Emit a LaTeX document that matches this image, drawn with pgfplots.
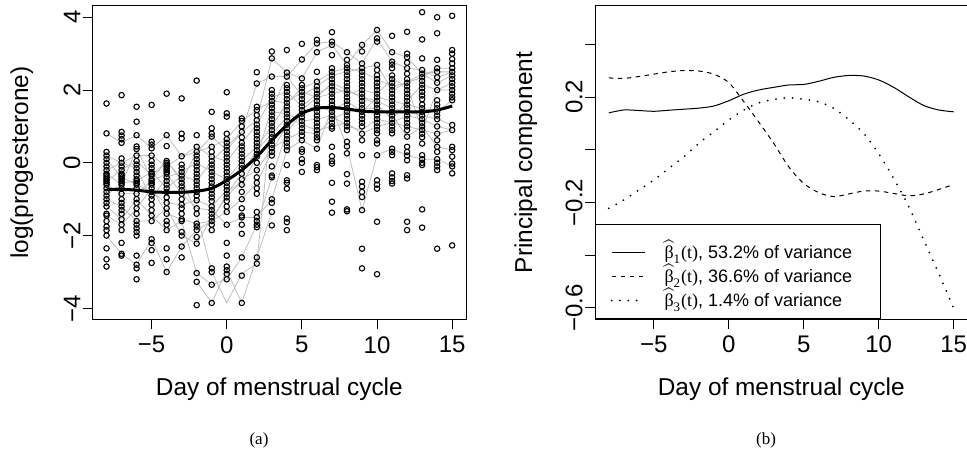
\documentclass[border=0pt]{standalone}
\usepackage{fontspec}
\setmainfont{Liberation Sans}
\newfontfamily\serif{Liberation Serif}
\usepackage{pgfplots}
\pgfplotsset{compat=1.18}
\newcommand\bh[1]{\smash{$\widehat{\hbox{\serif β}}_{\hbox{\serif\fontsize{6.5}{7}\selectfont #1}}$}{\serif(t)}}
\begin{document}
\begin{tikzpicture}
\pgfplotsset{
  rplot/.style={
    scale only axis, anchor=south west,
    xmin=-8.92, xmax=15.92,
    axis line style={black, line width=0.5pt},
    tick align=outside, major tick length=5pt,
    xtick pos=bottom, ytick pos=left,
    tick style={black, line width=0.5pt},
    xtick={-5,0,5,10,15}, xticklabels={−5,0,5,10,15},
    ticklabel style={font=\fontsize{12}{14}\selectfont},
    yticklabel style={rotate=90, anchor=south, inner sep=0.5pt},
    yticklabel shift=0.5pt,
    label style={font=\fontsize{12.2}{14}\selectfont},
    xlabel={Day of menstrual cycle},
    xlabel style={at={(axis description cs:0.5,-0.223)}, anchor=center},
  },
  indiv/.style={gray!50, line width=0.4pt, no marks},
}
% (a) individual log(progesterone) profiles
\begin{axis}[rplot, at={(46.35pt,65.35pt)}, width=186.65pt, height=156.65pt,
  ymin=-4.3, ymax=4.31,
  ytick={-4,-2,0,2,4}, yticklabels={−4,−2,0,2,4},
  ylabel={log(progesterone)},
  ylabel style={at={(axis description cs:-0.19,0.5)}, anchor=center},
]
\addplot[only marks, mark=o, mark size=1.35pt, mark options={line width=0.55pt, black}] coordinates {
(-8,1.63) (-8,0.81) (-8,0.3) (-8,0.2) (-8,0.1) (-8,0.0) (-8,-0.1) (-8,-0.2) (-8,-0.3) (-8,-0.35) (-8,-0.4) (-8,-0.45) (-8,-0.5) (-8,-0.55) (-8,-0.6) (-8,-0.7) (-8,-0.8) (-8,-0.9) (-8,-1.0) (-8,-1.1) (-8,-1.2) (-8,-1.4) (-8,-1.45) (-8,-1.6) (-8,-1.75) (-8,-1.85) (-8,-2.0) (-8,-2.35) (-8,-2.65) (-8,-2.85)
(-7,1.86) (-7,0.85) (-7,0.75) (-7,0.65) (-7,0.55) (-7,0.12) (-7,0.0) (-7,-0.1) (-7,-0.2) (-7,-0.3) (-7,-0.35) (-7,-0.4) (-7,-0.45) (-7,-0.5) (-7,-0.55) (-7,-0.6) (-7,-0.7) (-7,-0.85) (-7,-1.0) (-7,-1.1) (-7,-1.2) (-7,-1.3) (-7,-1.4) (-7,-1.55) (-7,-1.7) (-7,-1.85) (-7,-2.2) (-7,-2.5) (-7,-2.55)
(-6,1.54) (-6,1.13) (-6,0.76) (-6,0.45) (-6,0.38) (-6,0.2) (-6,0.05) (-6,-0.05) (-6,-0.15) (-6,-0.25) (-6,-0.35) (-6,-0.45) (-6,-0.5) (-6,-0.55) (-6,-0.6) (-6,-0.7) (-6,-0.85) (-6,-1.0) (-6,-1.1) (-6,-1.25) (-6,-1.4) (-6,-1.6) (-6,-1.7) (-6,-1.8) (-6,-1.9) (-6,-2.0) (-6,-2.55) (-6,-2.8) (-6,-2.9) (-6,-3.2)
(-5,1.59) (-5,0.58) (-5,0.5) (-5,0.4) (-5,0.2) (-5,0.05) (-5,-0.05) (-5,-0.15) (-5,-0.25) (-5,-0.3) (-5,-0.35) (-5,-0.45) (-5,-0.5) (-5,-0.55) (-5,-0.6) (-5,-0.7) (-5,-0.8) (-5,-0.9) (-5,-1.0) (-5,-1.15) (-5,-1.3) (-5,-1.45) (-5,-1.6) (-5,-2.1) (-5,-2.2) (-5,-2.4) (-5,-2.75)
(-4,1.9) (-4,0.76) (-4,0.46) (-4,0.05) (-4,0.0) (-4,-0.05) (-4,-0.1) (-4,-0.15) (-4,-0.2) (-4,-0.25) (-4,-0.3) (-4,-0.4) (-4,-0.5) (-4,-0.6) (-4,-0.7) (-4,-0.8) (-4,-0.95) (-4,-1.1) (-4,-1.25) (-4,-1.4) (-4,-1.6) (-4,-1.7) (-4,-1.85) (-4,-2.35) (-4,-2.65) (-4,-3.0)
(-3,1.77) (-3,0.8) (-3,0.67) (-3,0.18) (-3,-0.05) (-3,-0.15) (-3,-0.25) (-3,-0.35) (-3,-0.45) (-3,-0.55) (-3,-0.65) (-3,-0.75) (-3,-0.85) (-3,-1.0) (-3,-1.15) (-3,-1.25) (-3,-1.4) (-3,-1.55) (-3,-1.6) (-3,-1.9) (-3,-2.0) (-3,-2.3) (-3,-2.6)
(-2,2.26) (-2,0.76) (-2,0.44) (-2,0.3) (-2,0.2) (-2,0.1) (-2,0.0) (-2,-0.1) (-2,-0.2) (-2,-0.3) (-2,-0.4) (-2,-0.5) (-2,-0.6) (-2,-0.7) (-2,-0.8) (-2,-0.9) (-2,-1.03) (-2,-1.25) (-2,-1.4) (-2,-1.67) (-2,-1.75) (-2,-1.85) (-2,-2.04) (-2,-2.22) (-2,-3.03) (-2,-3.27) (-2,-3.91)
(-1,1.4) (-1,0.95) (-1,0.8) (-1,0.72) (-1,0.44) (-1,0.3) (-1,0.17) (-1,0.05) (-1,-0.05) (-1,-0.15) (-1,-0.25) (-1,-0.35) (-1,-0.45) (-1,-0.55) (-1,-0.65) (-1,-0.75) (-1,-0.85) (-1,-0.95) (-1,-1.05) (-1,-1.2) (-1,-1.3) (-1,-1.4) (-1,-1.5) (-1,-1.6) (-1,-1.7) (-1,-1.85) (-1,-2.9) (-1,-3.0) (-1,-3.35) (-1,-3.85)
(0,1.94) (0,1.36) (0,1.27) (0,0.8) (0,0.65) (0,0.55) (0,0.45) (0,0.35) (0,0.25) (0,0.15) (0,0.05) (0,-0.05) (0,-0.15) (0,-0.25) (0,-0.35) (0,-0.45) (0,-0.55) (0,-0.65) (0,-0.75) (0,-0.85) (0,-0.95) (0,-1.05) (0,-1.2) (0,-1.35) (0,-1.7) (0,-2.2) (0,-2.55) (0,-2.85) (0,-2.95) (0,-3.05) (0,-3.2)
(1,1.22) (1,1.15) (1,1.0) (1,0.85) (1,0.7) (1,0.55) (1,0.45) (1,0.35) (1,0.25) (1,0.15) (1,0.05) (1,-0.05) (1,-0.15) (1,-0.3) (1,-0.45) (1,-0.6) (1,-0.8) (1,-1.0) (1,-1.25) (1,-1.45) (1,-1.5) (1,-1.7) (1,-1.95) (1,-2.6) (1,-3.1) (1,-3.85)
(2,2.49) (2,2.18) (2,1.54) (2,1.45) (2,1.31) (2,1.17) (2,1.05) (2,0.95) (2,0.85) (2,0.75) (2,0.65) (2,0.55) (2,0.45) (2,0.35) (2,0.25) (2,0.17) (2,0.0) (2,-0.2) (2,-0.4) (2,-0.55) (2,-0.7) (2,-0.85) (2,-1.35) (2,-1.5) (2,-1.6) (2,-1.7) (2,-1.77) (2,-2.6) (2,-2.77)
(3,3.06) (3,2.87) (3,2.37) (3,2.0) (3,1.9) (3,1.8) (3,1.7) (3,1.6) (3,1.5) (3,1.4) (3,1.3) (3,1.2) (3,1.1) (3,1.0) (3,0.9) (3,0.8) (3,0.7) (3,0.6) (3,0.5) (3,0.4) (3,0.3) (3,0.2) (3,-0.1) (3,-0.35) (3,-0.4) (3,-1.0) (3,-1.1) (3,-1.35) (3,-1.72)
(4,3.1) (4,2.48) (4,2.37) (4,2.14) (4,2.05) (4,1.95) (4,1.85) (4,1.75) (4,1.65) (4,1.55) (4,1.45) (4,1.35) (4,1.25) (4,1.15) (4,1.05) (4,0.95) (4,0.85) (4,0.75) (4,0.65) (4,0.55) (4,0.45) (4,0.35) (4,-0.06) (4,-0.48) (4,-0.55) (4,-0.71) (4,-1.53) (4,-1.63) (4,-1.85)
(5,3.27) (5,2.84) (5,2.32) (5,2.14) (5,2.05) (5,1.95) (5,1.85) (5,1.75) (5,1.65) (5,1.55) (5,1.45) (5,1.35) (5,1.25) (5,1.15) (5,1.05) (5,0.95) (5,0.85) (5,0.75) (5,0.62) (5,0.37) (5,0.3) (5,0.1) (5,0.0) (5,-0.25)
(6,3.38) (6,3.28) (6,3.04) (6,2.5) (6,2.23) (6,2.1) (6,2.0) (6,1.9) (6,1.8) (6,1.7) (6,1.6) (6,1.5) (6,1.4) (6,1.3) (6,1.2) (6,1.1) (6,1.0) (6,0.9) (6,0.8) (6,0.7) (6,0.62) (6,0.39) (6,-0.06) (6,-0.12) (6,-0.2)
(7,3.59) (7,3.33) (7,3.24) (7,2.96) (7,2.6) (7,2.5) (7,2.4) (7,2.3) (7,2.2) (7,2.1) (7,2.0) (7,1.9) (7,1.8) (7,1.7) (7,1.6) (7,1.5) (7,1.4) (7,1.3) (7,1.2) (7,1.1) (7,1.0) (7,0.94) (7,0.44) (7,0.18) (7,0.05) (7,-0.02) (7,-0.55) (7,-1.07) (7,-1.37)
(8,3.04) (8,2.83) (8,2.69) (8,2.6) (8,2.5) (8,2.4) (8,2.3) (8,2.2) (8,2.1) (8,2.0) (8,1.9) (8,1.8) (8,1.7) (8,1.6) (8,1.5) (8,1.4) (8,1.3) (8,1.2) (8,1.1) (8,1.0) (8,0.9) (8,0.58) (8,0.45) (8,0.26) (8,-0.31) (8,-0.57) (8,-1.28) (8,-1.33)
(9,3.24) (9,3.06) (9,2.73) (9,2.6) (9,2.5) (9,2.4) (9,2.3) (9,2.2) (9,2.1) (9,2.0) (9,1.9) (9,1.8) (9,1.7) (9,1.6) (9,1.5) (9,1.4) (9,1.3) (9,1.2) (9,1.1) (9,1.0) (9,0.8) (9,0.62) (9,0.21) (9,-0.52) (9,-0.65) (9,-0.8) (9,-0.94) (9,-1.3) (9,-2.36) (9,-2.9)
(10,3.65) (10,3.42) (10,3.33) (10,2.69) (10,2.55) (10,2.41) (10,2.3) (10,2.2) (10,2.1) (10,2.0) (10,1.9) (10,1.8) (10,1.7) (10,1.6) (10,1.5) (10,1.4) (10,1.3) (10,1.2) (10,1.1) (10,1.0) (10,0.9) (10,0.81) (10,0.62) (10,0.53) (10,0.21) (10,-0.48) (10,-0.6) (10,-0.71) (10,-1.62) (10,-3.06)
(11,3.49) (11,3.04) (11,2.78) (11,2.7) (11,2.6) (11,2.4) (11,2.3) (11,2.2) (11,2.1) (11,2.0) (11,1.9) (11,1.8) (11,1.7) (11,1.6) (11,1.5) (11,1.4) (11,1.3) (11,1.2) (11,1.1) (11,1.0) (11,0.9) (11,0.81) (11,0.39) (11,0.3) (11,0.21) (11,-0.29) (11,-0.4) (11,-0.5) (11,-0.57)
(12,3.6) (12,3.0) (12,2.9) (12,2.75) (12,2.6) (12,2.45) (12,2.3) (12,2.2) (12,2.1) (12,2.0) (12,1.9) (12,1.8) (12,1.7) (12,1.6) (12,1.5) (12,1.4) (12,1.3) (12,1.2) (12,1.1) (12,1.0) (12,0.9) (12,0.72) (12,0.44) (12,0.3) (12,0.2) (12,0.07) (12,-0.34) (12,-0.43) (12,-1.62) (12,-1.85)
(13,4.14) (13,3.39) (13,2.87) (13,2.55) (13,2.45) (13,2.35) (13,2.25) (13,2.15) (13,2.05) (13,1.95) (13,1.85) (13,1.75) (13,1.6) (13,1.5) (13,1.4) (13,1.3) (13,1.2) (13,1.1) (13,1.0) (13,0.9) (13,0.8) (13,0.7) (13,0.53) (13,0.21) (13,0.1) (13,0.0) (13,-0.06) (13,-1.28) (13,-1.78)
(14,4.0) (14,3.56) (14,2.83) (14,2.6) (14,2.5) (14,2.35) (14,2.2) (14,2.0) (14,1.72) (14,1.6) (14,1.5) (14,1.4) (14,1.3) (14,1.2) (14,1.0) (14,0.8) (14,0.62) (14,0.44) (14,0.3) (14,0.1) (14,0.0) (14,-0.1) (14,-0.2) (14,-2.36)
(15,4.04) (15,3.1) (15,3.0) (15,2.85) (15,2.73) (15,2.6) (15,2.5) (15,2.4) (15,2.3) (15,2.2) (15,2.1) (15,2.0) (15,1.9) (15,1.8) (15,1.72) (15,1.04) (15,0.9) (15,0.44) (15,0.35) (15,0.17) (15,-0.02) (15,-0.1) (15,-0.29) (15,-2.27)
};
% a few individual profiles
\addplot[indiv] coordinates {(-8,-0.3) (-7,-0.6) (-6,0.4) (-5,-0.45) (-4,0.05) (-3,-0.5) (-2,0.3) (-1,0.44) (0,0.65) (1,1.15) (2,1.45) (3,1.7) (4,1.65) (5,2.05) (6,2.23) (7,2.5) (8,2.6) (9,2.5) (10,2.3) (11,2.1) (12,2.2) (13,2.45) (14,2.5) (15,2.5)};
\addplot[indiv] coordinates {(-8,0.1) (-7,-0.4) (-6,-0.6) (-5,-0.8) (-4,-1.1) (-3,-1.15) (-2,-1.03) (-1,-1.2) (0,-0.75) (1,-0.6) (2,0.17) (3,1.5) (4,2.37) (5,1.85) (6,2.1) (7,2.4) (8,2.5) (9,2.6) (10,2.69) (11,2.0) (12,2.2) (13,2.35) (14,2.6) (15,2.6)};
\addplot[indiv] coordinates {(-8,-1.45) (-7,-1.7) (-6,-1.25) (-5,-0.7) (-4,-1.4) (-3,-1.55) (-2,-1.67) (-1,-1.6) (0,-0.85) (1,-0.3) (2,0.35) (3,0.8) (4,1.25) (5,1.05) (6,0.9) (7,1.0) (8,1.1) (9,0.8) (10,1.0) (11,1.1) (12,1.0) (13,0.9) (14,0.8) (15,0.9)};
\addplot[indiv] coordinates {(-8,-2.0) (-7,-2.5) (-6,-2.8) (-5,-2.1) (-4,-3.0) (-3,-2.3) (-2,-1.85) (-1,-1.6) (0,-1.35) (1,-1.0) (2,-0.55) (3,0.3) (4,1.05) (5,1.45) (6,1.8) (7,1.9) (8,2.0) (9,1.8) (10,1.7) (11,1.5) (12,1.4) (13,1.3) (14,1.2) (15,1.04)};
\addplot[indiv] coordinates {(-8,-0.5) (-7,-0.2) (-6,0.05) (-5,-0.35) (-4,0.05) (-3,-0.45) (-2,-1.4) (-1,-3.0) (0,-3.85) (1,-3.05) (2,-2.77) (3,1.4) (4,1.35) (5,1.15) (6,1.2) (7,1.3) (8,1.0) (9,0.9) (10,1.2) (11,1.1) (12,1.3) (13,1.2) (14,1.0) (15,0.9)};
\addplot[indiv] coordinates {(-2,-3.27) (-1,-3.85) (0,-2.95) (1,-3.85) (2,-2.6) (3,-1.35)};
\addplot[indiv] coordinates {(-8,0.81) (-7,0.55) (-6,0.76) (-5,0.4) (-4,0.76) (-3,0.18) (-2,0.3) (-1,0.72) (0,0.35) (1,0.85) (2,2.18) (3,2.37) (4,2.37) (5,2.84) (6,3.28) (7,3.33) (8,3.04) (9,2.73) (10,3.42) (11,2.78) (12,2.6) (13,2.55) (14,2.35) (15,2.5)};
\addplot[indiv] coordinates {(-8,-0.6) (-7,-0.85) (-6,-0.85) (-5,-0.5) (-4,-0.3) (-3,-0.85) (-2,-1.25) (-1,-1.3) (0,-1.7) (1,-1.5) (2,-1.5) (3,-1.0) (4,0.35) (5,0.62) (6,0.39) (7,1.5) (8,0.45) (9,-1.3) (10,0.21) (11,0.39) (12,0.2) (13,0.1) (14,0.1) (15,-0.1)};
\addplot[indiv] coordinates {(-8,0.2) (-7,0.0) (-6,-0.15) (-5,-1.0) (-4,-0.4) (-3,-0.25) (-2,0.0) (-1,-0.25) (0,-0.45) (1,0.05) (2,0.45) (3,1.0) (4,1.65) (5,1.95) (6,1.8) (7,2.2) (8,2.0) (9,1.8) (10,1.6) (11,1.2) (12,1.7) (13,2.15) (14,2.0) (15,2.2)};
\addplot[indiv] coordinates {(-8,-1.0) (-7,-1.2) (-6,-1.6) (-5,-1.6) (-4,-1.25) (-3,-2.0) (-2,-2.22) (-1,-1.5) (0,-0.95) (1,-0.45) (2,-0.2) (3,0.4) (4,0.65) (5,0.85) (6,0.8) (7,1.2) (8,1.4) (9,1.5) (10,1.5) (11,1.3) (12,0.72) (13,1.0) (14,0.44) (15,0.35)};
\addplot[indiv] coordinates {(-8,-0.2) (-7,0.0) (-6,0.2) (-5,0.2) (-4,-0.1) (-3,0.18) (-2,0.44) (-1,0.17) (0,0.05) (1,0.55) (2,1.05) (3,1.8) (4,1.95) (5,1.55) (6,1.9) (7,2.1) (8,1.9) (9,2.0) (10,1.9) (11,2.3) (12,2.1) (13,0.9) (14,2.0) (15,2.0)};
\addplot[indiv] coordinates {(-8,-1.2) (-7,-1.55) (-6,-1.0) (-5,-1.45) (-4,-1.85) (-3,-1.6) (-2,-3.03) (-1,-3.35) (0,-3.2) (1,-2.6) (2,-1.7) (3,-0.4) (4,0.85) (5,1.35) (6,1.6) (7,1.4) (8,1.7) (9,1.4) (10,1.8) (11,1.7) (12,1.6) (13,1.5) (14,1.4) (15,1.72)};
\addplot[indiv] coordinates {(-8,-0.9) (-7,-0.55) (-6,-0.5) (-5,-0.25) (-4,-0.7) (-3,-0.35) (-2,-0.5) (-1,0.05) (0,0.45) (1,0.85) (2,1.17) (3,2.87) (4,2.48) (5,2.32) (6,3.04) (7,3.24) (8,2.69) (9,3.24) (10,3.65) (11,3.04) (12,2.9) (13,2.45) (14,2.2) (15,2.4)};
% mean curve
\addplot[black, line width=1.5pt, smooth, no marks] coordinates {(-8,-0.73) (-7,-0.73) (-6,-0.75) (-5,-0.80) (-4,-0.81) (-3,-0.81) (-2,-0.78) (-1,-0.70) (0,-0.48) (1,-0.20) (2,0.17) (3,0.62) (4,1.04) (5,1.36) (6,1.50) (7,1.52) (8,1.48) (9,1.42) (10,1.40) (11,1.40) (12,1.40) (13,1.40) (14,1.45) (15,1.56)};
\end{axis}
% (b) principal components
\begin{axis}[rplot, at={(297.5pt,65.5pt)}, width=186.25pt, height=156.5pt,
  ymin=-0.643, ymax=0.546,
  ytick={-0.6,-0.4,-0.2,0,0.2,0.4}, yticklabels={−0.6,,−0.2,,0.2,},
  ylabel={Principal component},
  ylabel style={at={(axis description cs:-0.186,0.5)}, anchor=center},
  legend style={at={(axis description cs:0,0)}, anchor=south west, draw=black, line width=0.5pt,
    font=\fontsize{9}{11}\selectfont, inner xsep=7.5pt, inner ysep=2.5pt, column sep=7.5pt,
    cells={anchor=base west}},
  legend image code/.code={\draw[#1] (0pt,3pt) -- (16.5pt,3pt);},
]
\addplot[black, line width=0.5pt, smooth] coordinates {(-8,0.140) (-7,0.151) (-6,0.149) (-5,0.146) (-4,0.150) (-3,0.154) (-2,0.158) (-1,0.166) (0,0.186) (1,0.211) (2,0.227) (3,0.237) (4,0.246) (5,0.248) (6,0.260) (7,0.275) (8,0.282) (9,0.280) (10,0.265) (11,0.237) (12,0.201) (13,0.168) (14,0.151) (15,0.144)};
\addlegendentry{\rule[-4.25pt]{0pt}{16.95pt}\bh{1}, 53.2\% of variance\rule{4.5pt}{0pt}}
\addplot[black, line width=0.5pt, smooth, dash pattern=on 2.25pt off 2.25pt] coordinates {(-8,0.273) (-7,0.271) (-6,0.278) (-5,0.287) (-4,0.296) (-3,0.301) (-2,0.299) (-1,0.287) (0,0.255) (1,0.183) (2,0.105) (3,0.024) (4,-0.065) (5,-0.128) (6,-0.163) (7,-0.178) (8,-0.168) (9,-0.157) (10,-0.157) (11,-0.166) (12,-0.175) (13,-0.168) (14,-0.151) (15,-0.132)};
\addlegendentry{\rule[-4.25pt]{0pt}{10.25pt}\bh{2}, 36.6\% of variance\rule{4.5pt}{0pt}}
\addplot[black, line width=1pt, line cap=round, smooth, dash pattern=on 0pt off 4.2pt] coordinates {(-8,-0.223) (-7,-0.191) (-6,-0.153) (-5,-0.115) (-4,-0.071) (-3,-0.027) (-2,0.024) (-1,0.068) (0,0.113) (1,0.151) (2,0.178) (3,0.191) (4,0.197) (5,0.192) (6,0.182) (7,0.157) (8,0.115) (9,0.062) (10,-0.016) (11,-0.109) (12,-0.216) (13,-0.343) (14,-0.470) (15,-0.603)};
\addlegendentry{\rule[-4.25pt]{0pt}{10.25pt}\bh{3}, 1.4\% of variance\rule{4.5pt}{0pt}}
\end{axis}
\node[font=\serif\fontsize{8.5}{10}\selectfont] at (129.5pt,5pt) {(a)};
\node[font=\serif\fontsize{8.5}{10}\selectfont] at (383pt,5pt) {(b)};
\pgfresetboundingbox
\useasboundingbox (0,0) rectangle (483.5pt,225pt);
\end{tikzpicture}
\end{document}
